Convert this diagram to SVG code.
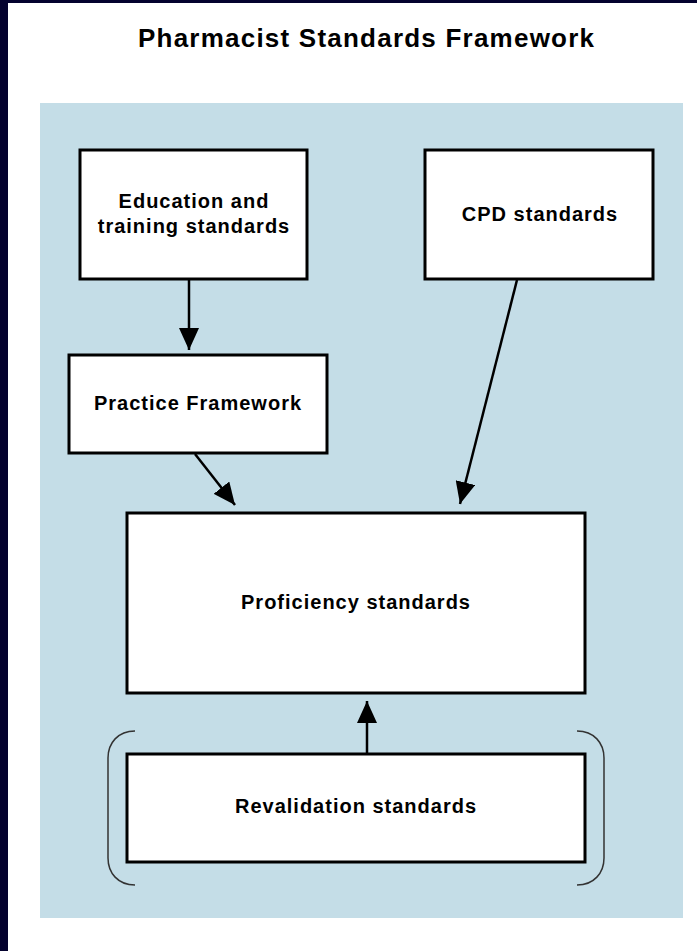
<svg xmlns="http://www.w3.org/2000/svg" width="697" height="951" viewBox="0 0 697 951">
  <style>
    .box { fill: #ffffff; stroke: #000000; stroke-width: 3; }
    .lbl { font-family: "Liberation Sans", Arial, sans-serif; font-weight: bold; font-size: 20px; letter-spacing: 1px; fill: #000000; text-anchor: middle; }
    .title { font-family: "Liberation Sans", Arial, sans-serif; font-weight: bold; font-size: 26px; fill: #000000; text-anchor: middle; }
    .conn { stroke: #000000; stroke-width: 2.5; fill: none; marker-end: url(#arrow); }
    .bracket { stroke: #333333; stroke-width: 1.5; fill: none; }
  </style>
  <defs>
    <marker id="arrow" markerUnits="userSpaceOnUse" markerWidth="22" markerHeight="20" viewBox="0 0 22 20" refX="22" refY="10" orient="auto">
      <path d="M0,0 L22,10 L0,20 Z" fill="#000000"/>
    </marker>
  </defs>

  <rect x="0" y="0" width="697" height="951" fill="#ffffff"/>
  <rect x="0" y="0" width="8" height="951" fill="#04022e"/>
  <rect x="0" y="0" width="697" height="3" fill="#04022e"/>

  <text class="title" x="366" y="47" textLength="456" lengthAdjust="spacing">Pharmacist Standards Framework</text>

  <rect id="panel" x="40" y="103" width="643" height="815" fill="#c4dde7"/>

  <g id="brackets">
    <path class="bracket" d="M135,731 C118,731 108,743 108,758 L108,858 C108,873 118,885 135,885"/>
    <path class="bracket" d="M577,731 C594,731 604,743 604,758 L604,858 C604,873 594,885 577,885"/>
  </g>

  <g id="connectors">
    <line class="conn" x1="189" y1="280" x2="189" y2="350"/>
    <line class="conn" x1="195" y1="454" x2="235" y2="505"/>
    <line class="conn" x1="517" y1="280" x2="460" y2="504"/>
    <line class="conn" x1="367" y1="753" x2="367" y2="701"/>
  </g>

  <g id="education">
    <rect class="box" x="80" y="150" width="227" height="129"/>
    <text class="lbl" x="194" y="208">Education and</text>
    <text class="lbl" x="194" y="233">training standards</text>
  </g>

  <g id="cpd">
    <rect class="box" x="425" y="150" width="228" height="129"/>
    <text class="lbl" x="540" y="221">CPD standards</text>
  </g>

  <g id="practice">
    <rect class="box" x="69" y="355" width="258" height="98"/>
    <text class="lbl" x="198" y="410">Practice Framework</text>
  </g>

  <g id="proficiency">
    <rect class="box" x="127" y="513" width="458" height="180"/>
    <text class="lbl" x="356" y="609">Proficiency standards</text>
  </g>

  <g id="revalidation">
    <rect class="box" x="127" y="754" width="458" height="108"/>
    <text class="lbl" x="356" y="813">Revalidation standards</text>
  </g>
</svg>
